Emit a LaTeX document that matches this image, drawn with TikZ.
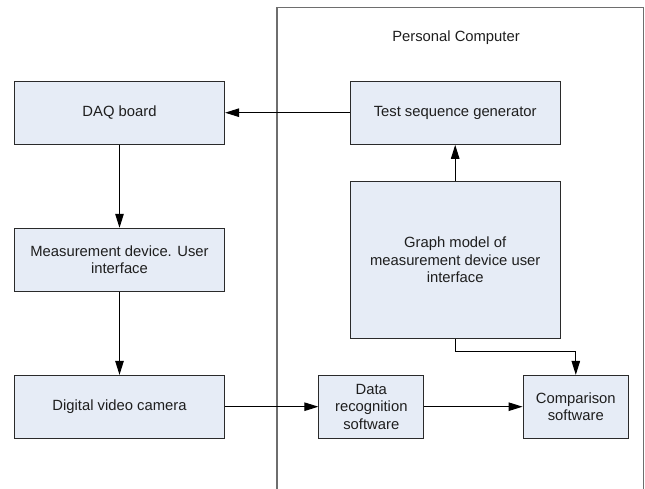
\documentclass[tikz,border=0pt]{standalone}
\usepackage{fontspec}
\setmainfont{Liberation Sans}
\usetikzlibrary{arrows.meta}
\definecolor{boxfill}{HTML}{E6ECF6}
\definecolor{boxline}{HTML}{2A2A2A}
\definecolor{frameline}{HTML}{6E6E6E}
\definecolor{txt}{HTML}{1E1E1E}
\begin{document}
\begin{tikzpicture}[x=1pt,y=-1pt,
  blk/.style={draw=boxline,fill=boxfill,line width=1pt,inner sep=0pt,align=center,
    text=txt,font=\fontsize{14.8}{17.5}\selectfont},
  arr/.style={draw=black,line width=1pt,-{Triangle[length=14pt,width=8.5pt]}}]
\useasboundingbox (0,0) rectangle (645,489);
% personal computer frame (open at bottom)
\draw[frameline,line width=1.5pt] (276.8,489) -- (276.8,7.3) -- (643.5,7.3) -- (643.5,489);
\node[text=txt,font=\fontsize{14.8}{17.5}\selectfont] (pc) at (456,37.3) {Personal Computer};
% blocks
\node[blk,minimum width=210.2pt,minimum height=63.3pt] (daq) at (119.5,112.7) {DAQ board};
\node[blk,minimum width=210.3pt,minimum height=63.3pt] (tsg) at (455.2,112.7) {Test sequence generator};
\node[blk,minimum width=210.3pt,minimum height=156.6pt] (gm) at (455.2,260) {Graph model of\\measurement device user\\interface};
\node[blk,minimum width=210.2pt,minimum height=63pt] (mdu) at (119.5,259.8) {Measurement device. User\\interface};
\node[blk,minimum width=210.2pt,minimum height=62.7pt] (cam) at (119.5,406.7) {Digital video camera};
\node[blk,minimum width=104.9pt,minimum height=62.7pt] (drs) at (371.3,406.7) {Data\\recognition\\software};
\node[blk,minimum width=105.5pt,minimum height=62.7pt] (cmp) at (575.8,406.7) {Comparison\\software};
% connectors
\draw[arr] (tsg.west) -- (daq.east);
\draw[arr] (gm.north) -- (tsg.south);
\draw[arr] (daq.south) -- (mdu.north);
\draw[arr] (mdu.south) -- (cam.north);
\draw[arr] (cam.east) -- (drs.west);
\draw[arr] (drs.east) -- (cmp.west);
\coordinate (bend) at (455.2,351);
\draw[arr] (gm.south) -- (bend) -| (cmp.north);
\end{tikzpicture}
\end{document}
